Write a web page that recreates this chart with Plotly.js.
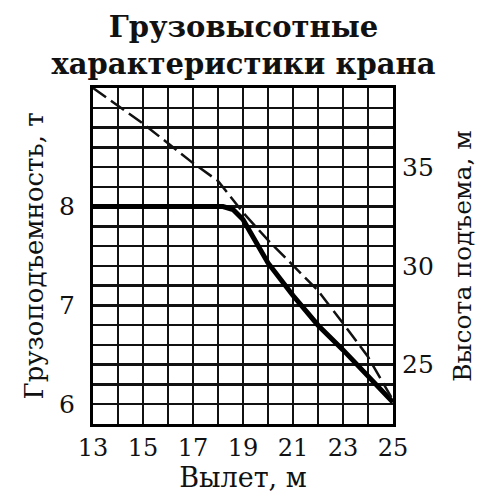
<!DOCTYPE html>
<html>
<head>
<meta charset="utf-8">
<script src="https://cdn.plot.ly/plotly-3.0.1.min.js"></script>
<style>html,body{margin:0;padding:0;background:#fff;}#chart{width:487px;height:494px;}</style>
</head>
<body>
<div id="chart"></div>
<script>
// Load capacity curve (left axis, t)
const loadReach = [13, 18.2, 18.6, 19, 19.5, 20, 21, 22, 23, 24, 25];
const loadValue = [8.0, 8.0, 7.97, 7.87, 7.65, 7.43, 7.1, 6.8, 6.55, 6.28, 6.02];
// Hook height curve (right axis, m)
const heightReach = [13, 14, 15, 16, 17, 18, 19, 20, 21, 22, 23, 24, 25];
const heightValue = [39, 38.1, 37.2, 36.2, 35.2, 34.3, 32.7, 31.3, 30.0, 28.75, 27.1, 25.4, 23.2];

const xTickVals = [13, 14, 15, 16, 17, 18, 19, 20, 21, 22, 23, 24, 25];
const xTickText = ['13', '', '15', '', '17', '', '19', '', '21', '', '23', '', '25'];
const yLabeled = [6, 7, 8];
const y2Labeled = [25, 30, 35];

const titleText = 'Грузовысотные<br>характеристики крана';
const xTitle = 'Вылет, м';
const yTitle = 'Грузоподъемность, т';
const y2Title = 'Высота подъема, м';

const yRange = [5.8, 9.2];
const y2Range = [22, 39];

// grid values every 0.2 t
const yTickVals = [], yTickText = [];
for (let i = 0; i <= 17; i++) {
  const v = Math.round((yRange[0] + i * 0.2) * 10) / 10;
  yTickVals.push(v);
  yTickText.push(yLabeled.includes(v) ? String(v) : '');
}

const serif = 'DejaVu Serif, Liberation Serif, serif';

const traces = [
  {
    x: heightReach, y: heightValue, yaxis: 'y2', type: 'scatter', mode: 'lines',
    line: {color: '#111', width: 2.5, dash: '16px,6px'}, hoverinfo: 'skip'
  },
  {
    x: loadReach, y: loadValue, type: 'scatter', mode: 'lines',
    line: {color: '#000', width: 5}, hoverinfo: 'skip'
  }
];

const layout = {
  width: 487, height: 494,
  margin: {l: 93, r: 94, t: 88, b: 70},
  paper_bgcolor: '#fff', plot_bgcolor: '#fff',
  showlegend: false,
  title: {
    text: titleText, x: 0.5, xanchor: 'center', y: 0.926, yanchor: 'top', yref: 'container',
    font: {family: serif, size: 29, color: '#111', weight: 'bold'}
  },
  xaxis: {
    range: [13, 25], tickmode: 'array', tickvals: xTickVals, ticktext: xTickText,
    showgrid: true, gridcolor: '#111', gridwidth: 2.5, zeroline: false,
    showline: true, linecolor: '#000', linewidth: 3, mirror: true,
    ticks: '', ticklabelstandoff: 0,
    tickfont: {family: serif, size: 24, color: '#111'},
    title: {text: xTitle, font: {family: serif, size: 27, color: '#111'}, standoff: 2}
  },
  yaxis: {
    range: yRange, tickmode: 'array', tickvals: yTickVals, ticktext: yTickText,
    showgrid: true, gridcolor: '#111', gridwidth: 2.5, zeroline: false,
    showline: true, linecolor: '#000', linewidth: 3, mirror: true,
    ticks: '', ticklabelstandoff: 10,
    tickfont: {family: serif, size: 25, color: '#111'},
    title: {text: yTitle, font: {family: serif, size: 26, color: '#111'}, standoff: 8}
  },
  yaxis2: {
    range: y2Range, overlaying: 'y', side: 'right', tickmode: 'array', tickvals: y2Labeled,
    showgrid: false, zeroline: false, ticks: '', ticklabelstandoff: 8,
    tickfont: {family: serif, size: 25, color: '#111'},
    title: {text: y2Title, font: {family: serif, size: 25, color: '#111'}, standoff: 20}
  }
};

Plotly.newPlot('chart', traces, layout, {staticPlot: true, displayModeBar: false});
</script>
</body>
</html>
